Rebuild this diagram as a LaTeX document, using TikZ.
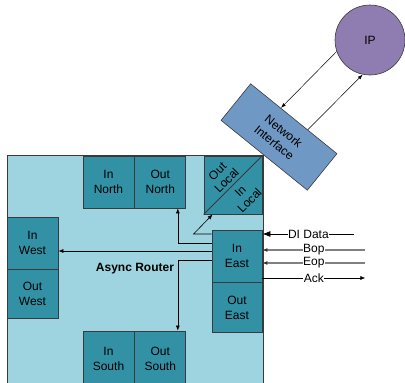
\documentclass[tikz,border=0pt]{standalone}
\usepackage{fontspec}
\setmainfont{Liberation Sans}
\usetikzlibrary{calc,positioning,arrows.meta}
\definecolor{routerbg}{HTML}{9ED3E0}
\definecolor{portfill}{HTML}{3391A6}
\definecolor{ipfill}{HTML}{8F7DB2}
\definecolor{nifill}{HTML}{7098C4}
\definecolor{edgegray}{HTML}{3A3A3A}
\tikzset{
  port/.style={draw=edgegray, fill=portfill, line width=0.8pt, minimum width=51pt, minimum height=52pt, inner sep=1pt, align=center, font=\fontsize{12}{15}\selectfont},
  sig/.style={line width=0.6pt, -{Latex[length=5pt,width=4pt]}},
  graysig/.style={line width=1.1pt, draw=gray, -{Latex[length=5pt,width=4pt,color=black!80]}},
  bigsig/.style={line width=0.8pt, -{Latex[length=8pt,width=6pt]}},
  lbl/.style={fill=white, inner sep=0.5pt, font=\fontsize{12}{14}\selectfont},
  tilt/.style={rotate=45, align=center, inner sep=0pt, font=\fontsize{12}{13}\selectfont},
  every node/.append style={font=\fontsize{12}{15}\selectfont}
}
\begin{document}
\begin{tikzpicture}[x=1pt,y=-1pt]
  \clip (0,0) rectangle (405,383);
  % router body
  \node[draw=edgegray, line width=0.6pt, fill=routerbg, minimum width=256pt, minimum height=236pt, inner sep=0pt] (router) at (135,273) {};
  \node[font=\bfseries\fontsize{12}{14}\selectfont] (rlabel) at (135,269) {Async Router};

  % ports
  \node[port] (innorth) at (108.5,182) {In\\North};
  \node[port, right=0pt of innorth] (outnorth) {Out\\North};
  \node[port, minimum width=58pt, minimum height=58pt] (local) at (233,185) {};
  \draw[edgegray, line width=0.8pt] (local.south west) -- (local.north east);
  \node[tilt] (outlocal) at (222,176) {Out\\Local};
  \node[tilt] (inlocal) at (245,196) {In\\Local};
  \node[port] (inwest) at (32.5,243) {In\\West};
  \node[port, minimum height=49pt, below=0pt of inwest] (outwest) {Out\\West};
  \node[port, minimum width=50pt] (ineast) at (237,256) {In\\East};
  \node[port, minimum width=50pt, minimum height=50pt, below=0pt of ineast] (outeast) {Out\\East};
  \node[port, minimum height=56pt] (insouth) at (108.5,359) {In\\South};
  \node[port, minimum height=56pt, right=0pt of insouth] (outsouth) {Out\\South};

  % internal routes from In East
  \coordinate (tapl) at ([yshift=22pt]ineast.west);
  \coordinate (tapn) at ([yshift=13pt]ineast.west);
  \coordinate (tapw) at ([yshift=5pt]ineast.west);
  \coordinate (taps) at ([yshift=-4pt]ineast.west);
  \draw[sig] (tapw) -- (tapw -| inwest.east);
  \draw[sig] (tapn) -| ([xshift=17.5pt]outnorth.south);
  \draw[sig] (taps) -| ([xshift=17.5pt]outsouth.north);
  \draw[sig] (tapl) -- ++(-18,0) -- ([xshift=9pt]local.south west);

  % east side signals
  \coordinate (diend) at ([xshift=92pt,yshift=22pt]ineast.east);
  \coordinate (bopend) at ([xshift=103pt,yshift=6pt]ineast.east);
  \coordinate (eopend) at ([xshift=103pt,yshift=-7pt]ineast.east);
  \coordinate (ackend) at ([xshift=103pt,yshift=-22pt]ineast.east);
  \draw[bigsig] (diend) -- node[lbl] (dilbl) {DI Data} ([yshift=22pt]ineast.east);
  \draw[graysig] (bopend) -- node[lbl] (boplbl) {Bop} ([yshift=6pt]ineast.east);
  \draw[graysig] (eopend) -- node[lbl] (eoplbl) {Eop} ([yshift=-7pt]ineast.east);
  \draw[sig] ([yshift=-22pt]ineast.east) -- node[lbl] (acklbl) {Ack} (ackend);

  % network interface and IP
  \node[draw=edgegray, line width=0.6pt, fill=nifill, minimum width=111pt, minimum height=47pt, rotate=-39, align=center] (ni) at (279,137) {Network\\Interface};
  \node[circle, draw=edgegray, line width=0.6pt, fill=ipfill, minimum size=70pt] (ip) at (370,40) {IP};
  \draw[line width=0.5pt, -{Latex[length=5pt,width=3.5pt]}] (ip.199) -- ($(ni.north west)!0.35!(ni.north east)$);
  \draw[line width=0.5pt, -{Latex[length=5pt,width=3.5pt]}] ($(ni.north west)!0.66!(ni.north east)$) -- (ip.258);
\end{tikzpicture}
\end{document}
